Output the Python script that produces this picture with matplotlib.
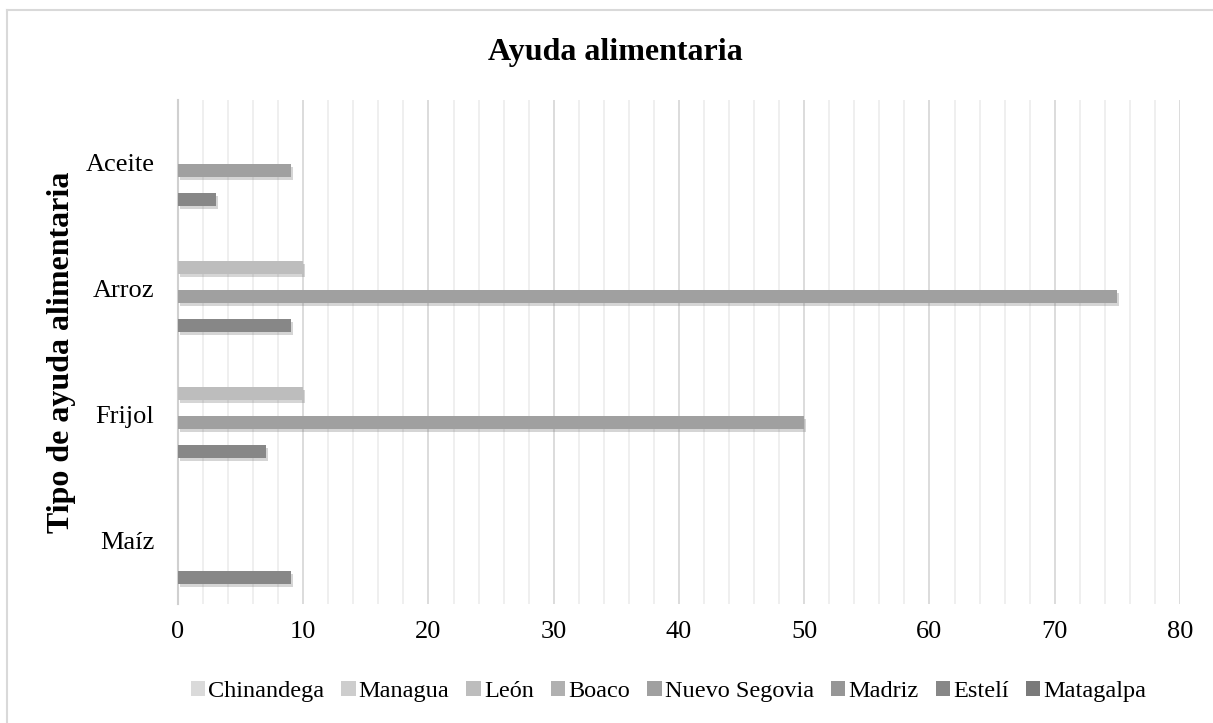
import matplotlib
matplotlib.use('Agg')
import matplotlib.pyplot as plt
import matplotlib.patheffects as pe
from matplotlib.lines import Line2D
from matplotlib.patches import Patch
import numpy as np

# datos
categorias = ['Maíz', 'Frijol', 'Arroz', 'Aceite']
departamentos = ['Chinandega', 'Managua', 'León', 'Boaco', 'Nuevo Segovia',
                 'Madriz', 'Estelí', 'Matagalpa']
chinandega = [0, 0, 0, 0]
managua = [0, 0, 0, 0]
leon = [0, 10, 10, 0]
boaco = [0, 0, 0, 0]
nuevo_segovia = [0, 50, 75, 9]
madriz = [0, 0, 0, 0]
esteli = [9, 7, 9, 3]
matagalpa = [0, 0, 0, 0]
valores = [chinandega, managua, leon, boaco, nuevo_segovia, madriz, esteli, matagalpa]
colores = ['#dadada', '#cdcdcd', '#bdbdbd', '#b0b0b0', '#a0a0a0',
           '#969696', '#878787', '#7a7a7a']

plt.rcParams['font.family'] = ['Liberation Serif', 'DejaVu Serif']

fig = plt.figure(figsize=(12.13, 7.23), dpi=100)
ax = fig.add_axes([0.1467, 0.1646, 0.8261, 0.6971])

y = np.arange(len(categorias))
paso = 0.1153
alto = 0.103
sombra = [pe.SimplePatchShadow(offset=(1.5, -2.5), shadow_rgbFace='#777777', alpha=0.3), pe.Normal()]
for k, (nombre, vals) in enumerate(zip(departamentos, valores)):
    barras = ax.barh(y + (3.5 - k) * paso, vals, height=alto, color=colores[k],
                     linewidth=0, zorder=3)
    for b, v in zip(barras, vals):
        if v > 0:
            b.set_path_effects(sombra)

ax.set_xlim(0, 80)
ax.set_ylim(-0.5, 3.5)
ax.set_xticks(np.arange(0, 81, 10))
ax.set_xticks(np.arange(0, 81, 2), minor=True)
ax.grid(axis='x', which='major', color='#d9d9d9', linewidth=1.3, zorder=0)
ax.grid(axis='x', which='minor', color='#eeeeee', linewidth=1.3, zorder=0)
ax.set_yticks(y)
ax.set_yticklabels(categorias)
ax.tick_params(axis='both', which='both', length=0, labelsize=19)
ax.tick_params(axis='x', pad=12)
ax.tick_params(axis='y', pad=17)
for s in ['top', 'right', 'bottom']:
    ax.spines[s].set_visible(False)
ax.spines['left'].set_color('#d0d0d0')
ax.spines['left'].set_linewidth(1.5)

ax.set_ylabel('Tipo de ayuda alimentaria', fontsize=23, fontweight='bold', labelpad=7)
fig.text(0.507, 0.928, 'Ayuda alimentaria', ha='center', va='center',
         fontsize=23, fontweight='bold')

handles = [Patch(facecolor=c, linewidth=0) for c in colores]
fig.legend(handles, departamentos, loc='center', bbox_to_anchor=(0.551, 0.044), ncol=8,
           frameon=False, fontsize=17.5, handlelength=0.6, handleheight=0.6,
           handletextpad=0.12, columnspacing=0.7)

# borde del gráfico
fig.add_artist(Line2D([0.0058, 0.0058], [0, 0.986], color='#d9d9d9', linewidth=1.5))
fig.add_artist(Line2D([0.0058, 1], [0.986, 0.986], color='#d9d9d9', linewidth=1.5))

fig.savefig('out.png', dpi=100)
